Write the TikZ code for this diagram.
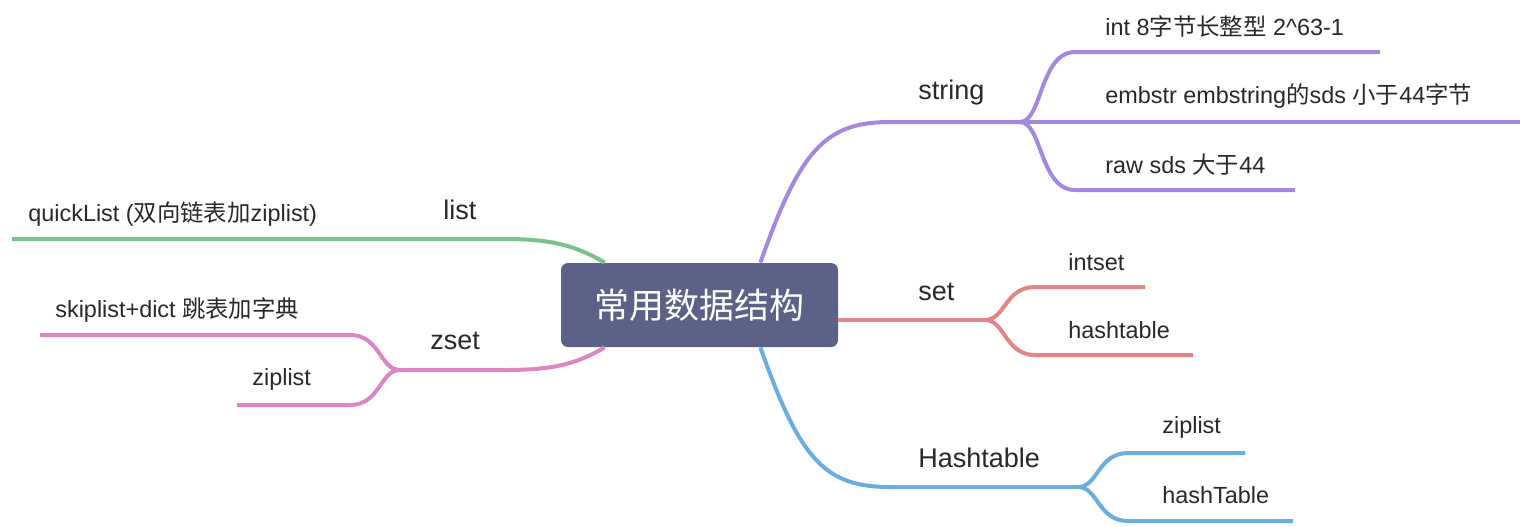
\documentclass[tikz,border=0pt]{standalone}
\usepackage{fontspec}
\setmainfont{Liberation Sans}
\newfontfamily\cjk{Noto Sans CJK SC}
\usetikzlibrary{positioning}
\definecolor{rootblue}{RGB}{91,97,135}
\definecolor{textgray}{RGB}{40,40,40}
\definecolor{strcol}{RGB}{164,135,222}
\definecolor{setcol}{RGB}{227,133,133}
\definecolor{hashcol}{RGB}{106,174,225}
\definecolor{listcol}{RGB}{120,194,138}
\definecolor{zsetcol}{RGB}{222,133,198}
\tikzstyle{topic} = [rectangle, fill=rootblue, text=white, rounded corners=3.5pt, minimum width=138.5pt, minimum height=42pt, font=\cjk\fontsize{17.5}{21}\selectfont]
\tikzstyle{branch} = [anchor=west, inner sep=0pt, text=textgray, font=\fontsize{13.5}{16}\selectfont]
\tikzstyle{leaf} = [anchor=west, inner sep=0pt, text=textgray, font=\fontsize{11.7}{14}\selectfont]
\tikzstyle{wire} = [line width=2pt]

\begin{document}
\begin{tikzpicture}[x=0.5pt, y=-0.5pt]
        \useasboundingbox (0,0) rectangle (1532,526);

        \node [topic] (root) at (699.5,305) {常用数据结构};

        % string
        \node [branch] (string) at (918,93) {string};
        \node [leaf] (int) at (1105,27) {int 8{\cjk 字节长整型} 2\textasciicircum63-1};
        \node [leaf] (embstr) at (1105,96) {embstr embstring{\cjk 的}sds {\cjk 小于}44{\cjk 字节}};
        \node [leaf] (raw) at (1105,165) {raw sds {\cjk 大于}44};
        \coordinate (stringfork) at (1020,122);
        \coordinate (intend) at (1380,52);
        \coordinate (embstrend) at (1520,122);
        \coordinate (rawend) at (1295,190);
        \draw [wire, strcol] ([xshift=-39pt]root.north east) .. controls (800,150) and (825,122) .. (890,122) -- (stringfork);
        \draw [wire, strcol] (stringfork) .. controls (1042,122) and (1040,52) .. (1075,52) -- (intend);
        \draw [wire, strcol] (stringfork) -- (embstrend);
        \draw [wire, strcol] (stringfork) .. controls (1042,122) and (1040,190) .. (1075,190) -- (rawend);

        % set
        \node [branch] (set) at (918,292) {set};
        \node [leaf] (intset) at (1068,262) {intset};
        \node [leaf] (hashtable) at (1068,330) {hashtable};
        \coordinate (setfork) at (985,320);
        \coordinate (intsetend) at (1145,287);
        \coordinate (hashtableend) at (1193,355);
        \draw [wire, setcol] (root.east |- 0,320) -- (setfork);
        \draw [wire, setcol] (setfork) .. controls (1005,320) and (1005,287) .. (1035,287) -- (intsetend);
        \draw [wire, setcol] (setfork) .. controls (1005,320) and (1005,355) .. (1035,355) -- (hashtableend);

        % Hashtable
        \node [branch] (Hashtable) at (918,458) {Hashtable};
        \node [leaf] (hziplist) at (1162,427) {ziplist};
        \node [leaf] (hashTable) at (1162,495) {hashTable};
        \coordinate (hashfork) at (1078,487);
        \coordinate (hziplistend) at (1245,453);
        \coordinate (hashTableend) at (1293,521);
        \draw [wire, hashcol] ([xshift=-39pt]root.south east) .. controls (800,460) and (825,487) .. (890,487) -- (hashfork);
        \draw [wire, hashcol] (hashfork) .. controls (1098,487) and (1098,453) .. (1128,453) -- (hziplistend);
        \draw [wire, hashcol] (hashfork) .. controls (1098,487) and (1098,521) .. (1128,521) -- (hashTableend);

        % list
        \node [branch] (list) at (443,210) {list};
        \node [leaf] (quicklist) at (28,214) {quickList ({\cjk 双向链表加}ziplist)};
        \coordinate (quicklistend) at (12,239);
        \draw [wire, listcol] ([xshift=22pt]root.north west) .. controls (575,245) and (550,239) .. (505,239) -- (quicklistend);

        % zset
        \node [branch] (zset) at (430,341) {zset};
        \node [leaf] (skiplist) at (55,310) {skiplist+dict {\cjk 跳表加字典}};
        \node [leaf] (zziplist) at (252,379) {ziplist};
        \coordinate (zsetfork) at (400,370);
        \coordinate (skiplistend) at (40,335);
        \coordinate (zziplistend) at (237,405);
        \draw [wire, zsetcol] ([xshift=22pt]root.south west) .. controls (575,365) and (550,370) .. (505,370) -- (zsetfork);
        \draw [wire, zsetcol] (zsetfork) .. controls (380,370) and (380,335) .. (350,335) -- (skiplistend);
        \draw [wire, zsetcol] (zsetfork) .. controls (380,370) and (380,405) .. (350,405) -- (zziplistend);
\end{tikzpicture}
\end{document}
